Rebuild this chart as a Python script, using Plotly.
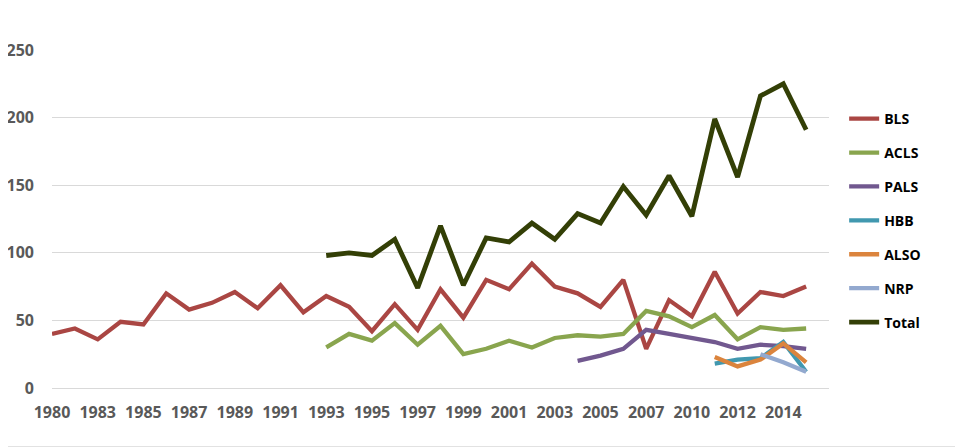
import plotly.graph_objects as go

# years on the category axis (1982 and 2009 are absent in the source)
years = ["1980", "1981"] + [str(y) for y in range(1983, 2009)] + [str(y) for y in range(2010, 2016)]
tick_years = years[::2]

bls = [40, 44, 36, 49, 47, 70, 58, 63, 71, 59, 76, 56, 68, 60, 42, 62, 43, 73, 52, 80,
       73, 92, 75, 70, 60, 80, 29, 65, 53, 86, 55, 71, 68, 75]
acls = [None] * 12 + [30, 40, 35, 48, 32, 46, 25, 29, 35, 30, 37, 39, 38, 40, 57, 53,
                      45, 54, 36, 45, 43, 44]
pals = [None] * 23 + [20, 24, 29, 43, 40, 37, 34, 29, 32, 31, 29]
hbb = [None] * 29 + [18, 21, 22, 34, 12]
also = [None] * 29 + [23, 16, 21, 33, 19]
nrp = [None] * 31 + [25, 19, 12]
total = [None] * 12 + [98, 100, 98, 110, 74, 120, 76, 111, 108, 122, 110, 129, 122, 149,
                       128, 157, 127, 199, 156, 216, 225, 191]

series = [
    ("BLS", bls, "#AA4643", 4.3),
    ("ACLS", acls, "#89A54E", 4.3),
    ("PALS", pals, "#71588F", 4.3),
    ("HBB", hbb, "#4198AF", 4.3),
    ("ALSO", also, "#DB843D", 4.3),
    ("NRP", nrp, "#93A9CF", 4.3),
    ("Total", total, "#333F06", 4.8),
]

fig = go.Figure()
for name, vals, col, w in series:
    fig.add_trace(go.Scatter(x=years, y=vals, name=name, mode="lines",
                             legendgroup=name,
                             line=dict(color=col, width=w)))

tick_font = dict(family="Open Sans", size=16, color="#595959", weight="bold")

# page body has an 8px margin, so the figure is a bit smaller than the window
fig.update_layout(
    width=955, height=439,
    margin=dict(l=44, r=134, t=42, b=59),
    plot_bgcolor="white", paper_bgcolor="white",
    showlegend=True,
    legend=dict(x=1.0195, xanchor="left", y=0.843, yanchor="top",
                tracegroupgap=12.7,
                font=dict(family="Open Sans", size=14, color="black", weight="bold")),
    xaxis=dict(type="category", range=[0, 34], tickmode="array",
               tickvals=tick_years, ticktext=tick_years, automargin=False,
               showgrid=False, zeroline=False, showline=False,
               ticks="", ticklabelstandoff=13, tickfont=tick_font),
    yaxis=dict(range=[0, 250], tickvals=[0, 50, 100, 150, 200, 250],
               automargin=False,
               showgrid=True, gridcolor="#D9D9D9", gridwidth=1.3,
               zeroline=True, zerolinecolor="#D9D9D9", zerolinewidth=1.3,
               showline=False, ticks="", ticklabelstandoff=17,
               tickfont=tick_font),
    shapes=[
        dict(type="line", xref="paper", yref="paper",
             x0=1.166, x1=1.166, y0=-0.175, y1=1.2,
             line=dict(color="#D9D9D9", width=2)),
        dict(type="line", xref="paper", yref="paper",
             x0=-0.1, x1=1.166, y0=-0.175, y1=-0.175,
             line=dict(color="#D9D9D9", width=2)),
    ],
)

fig.write_html("out.html")
